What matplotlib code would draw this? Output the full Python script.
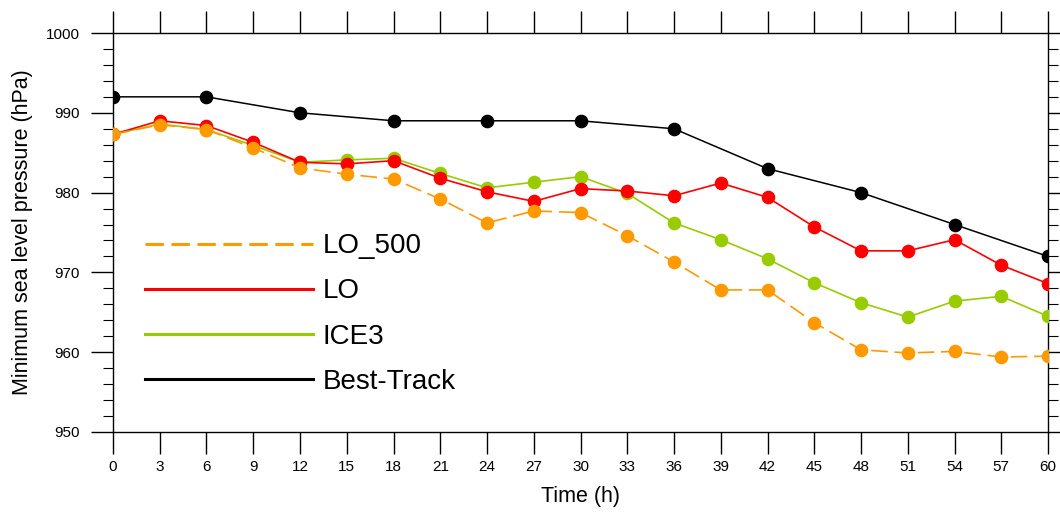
import matplotlib
matplotlib.use("Agg")
import matplotlib.pyplot as plt
from matplotlib.ticker import MultipleLocator

plt.rcParams['font.family'] = ['Liberation Sans', 'DejaVu Sans']

hours = [0, 3, 6, 9, 12, 15, 18, 21, 24, 27, 30, 33, 36, 39, 42, 45, 48, 51, 54, 57, 60]

lo_500 = [987.3, 988.5, 987.9, 985.6, 983.1, 982.3, 981.7, 979.2, 976.2, 977.7, 977.5,
          974.6, 971.3, 967.8, 967.8, 963.7, 960.3, 959.9, 960.1, 959.4, 959.5]
lo = [987.3, 989.0, 988.4, 986.3, 983.8, 983.6, 984.0, 981.8, 980.1, 978.9, 980.5,
      980.2, 979.6, 981.2, 979.4, 975.7, 972.7, 972.7, 974.1, 970.9, 968.6]
ice3 = [987.3, 988.6, 987.9, 985.9, 983.8, 984.1, 984.3, 982.4, 980.6, 981.3, 982.0,
        979.9, 976.2, 974.1, 971.7, 968.7, 966.2, 964.4, 966.4, 967.0, 964.5]

best_hours = [0, 6, 12, 18, 24, 30, 36, 42, 48, 54, 60]
best_track = [992, 992, 990, 989, 989, 989, 988, 983, 980, 976, 972]

fig = plt.figure(figsize=(10.6, 5.15), dpi=100)
ax = fig.add_axes([0.1066, 0.1612, 0.8821, 0.7747])

ms = 8.8
ax.plot(best_hours, best_track, color='black', lw=1.1, marker='o', ms=ms, label='Best-Track', zorder=3)
ax.plot(hours, ice3, color='#99CC00', lw=1.2, marker='o', ms=ms, label='ICE3', zorder=4)
ax.plot(hours, lo, color='#FF0000', lw=1.2, marker='o', ms=ms, label='LO', zorder=5)
ax.plot(hours, lo_500, color='#FF9900', lw=1.2, ls=(0, (10, 4)), marker='o', ms=ms,
        label='LO_500', zorder=6)

ax.set_xlim(0, 60)
ax.set_ylim(950, 1000)
ax.xaxis.set_major_locator(MultipleLocator(3))
ax.yaxis.set_major_locator(MultipleLocator(10))
ax.yaxis.set_minor_locator(MultipleLocator(2))

ax.tick_params(axis='x', which='major', direction='out', length=16, width=1,
               top=True, bottom=True, labelsize=11, pad=4)
ax.tick_params(axis='y', which='major', direction='out', length=16, width=1,
               left=True, right=True, labelsize=11, pad=8)
ax.tick_params(axis='y', which='minor', direction='out', length=7.5, width=0.8,
               left=True, right=True)
for s in ax.spines.values():
    s.set_linewidth(1.0)

ax.set_xlabel('Time (h)', fontsize=15.5, labelpad=9)
ax.set_ylabel('Minimum sea level pressure (hPa)', fontsize=15.5, labelpad=9)

handles, labels = ax.get_legend_handles_labels()
order = [3, 2, 1, 0]
leg = ax.legend([handles[i] for i in order], [labels[i] for i in order],
                loc='upper left', bbox_to_anchor=(0.034, 0.498), frameon=False,
                borderaxespad=0, borderpad=0,
                fontsize=20, handlelength=6.05, handletextpad=0.36, labelspacing=0.69)
for line in leg.get_lines():
    line.set_marker('')
    line.set_linewidth(2.2)
leg.get_lines()[0].set_dashes((6, 2.5))

fig.savefig('out.png', dpi=100)
